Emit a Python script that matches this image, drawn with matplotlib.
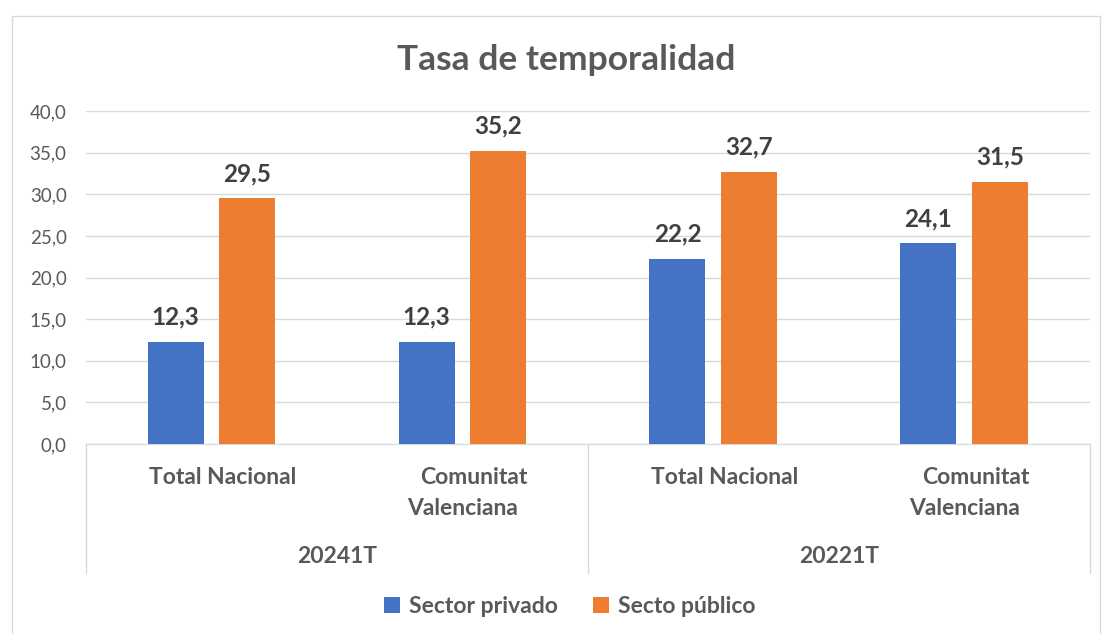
import matplotlib.pyplot as plt
from matplotlib.patches import Rectangle
import numpy as np

plt.rcParams['font.family'] = ['Lato', 'DejaVu Sans']

regiones = ['Total Nacional', 'Comunitat\nValenciana', 'Total Nacional', 'Comunitat\nValenciana']
periodos = ['20241T', '20221T']
privado = [12.3, 12.3, 22.2, 24.1]
publico = [29.5, 35.2, 32.7, 31.5]

azul = '#4472C4'
naranja = '#ED7D31'
gris = '#595959'

fig = plt.figure(figsize=(11.04, 6.34), dpi=100)
fig.patches.append(Rectangle((0.011, -0.01), 0.985, 0.985, transform=fig.transFigure,
                             fill=False, edgecolor='#D9D9D9', linewidth=1))
ax = fig.add_axes([0.078, 0.2997, 0.909, 0.5252])

x = np.arange(len(regiones))
w = 0.223
off = 0.143
b1 = ax.bar(x - off, privado, w, color=azul, label='Sector privado', zorder=3)
b2 = ax.bar(x + off, publico, w, color=naranja, label='Secto público', zorder=3)

fmt = lambda v: f'{v:.1f}'.replace('.', ',')
for bars, vals in ((b1, privado), (b2, publico)):
    for r, v in zip(bars, vals):
        ax.text(r.get_x() + r.get_width() / 2, v + 1.6, fmt(v), ha='center', va='bottom',
                fontsize=17.5, fontweight='bold', color='#404040')

ax.set_xlim(-0.5, len(regiones) - 0.5)
ax.set_ylim(0, 40)
ax.set_yticks(np.arange(0, 41, 5))
ax.set_yticklabels([fmt(t) for t in np.arange(0, 41, 5)], fontsize=13.5, color=gris)
ax.grid(axis='y', color='#D9D9D9', linewidth=1, zorder=0)
ax.set_xticks([])
for s in ['top', 'right', 'left']:
    ax.spines[s].set_visible(False)
ax.spines['bottom'].set_color('#D9D9D9')
ax.tick_params(axis='y', length=0, pad=14)

# etiquetas de categoria multinivel (como en Excel, la primera linea algo a la derecha)
for i, r in enumerate(regiones):
    for k, linea in enumerate(r.split('\n')):
        dx = 0.045 if k == 0 else 0.0
        ax.text(i + dx, -4.0 - 3.75 * k, linea, ha='center', va='center', fontsize=16.5,
                fontweight='bold', color=gris)
for j, p in enumerate(periodos):
    ax.text(2 * j + 0.5, -13.5, p, ha='center', va='center', fontsize=16.5,
            fontweight='bold', color=gris)
for xs in [-0.5, 1.5, 3.5]:
    ax.plot([xs, xs], [0, -15.5], color='#D9D9D9', linewidth=1, clip_on=False)

fig.text(0.513, 1 - 60 / 634, 'Tasa de temporalidad', ha='center', va='center',
         fontsize=25.5, fontweight='bold', color=gris)

fig.legend(handles=[b1, b2], loc='center', bbox_to_anchor=(0.516, 0.043), ncol=2,
           frameon=False, handlelength=0.7, handleheight=0.7, handletextpad=0.4,
           columnspacing=1.5, prop={'size': 16.5, 'weight': 'bold'}, labelcolor=gris)

fig.savefig('out.png', dpi=100)
